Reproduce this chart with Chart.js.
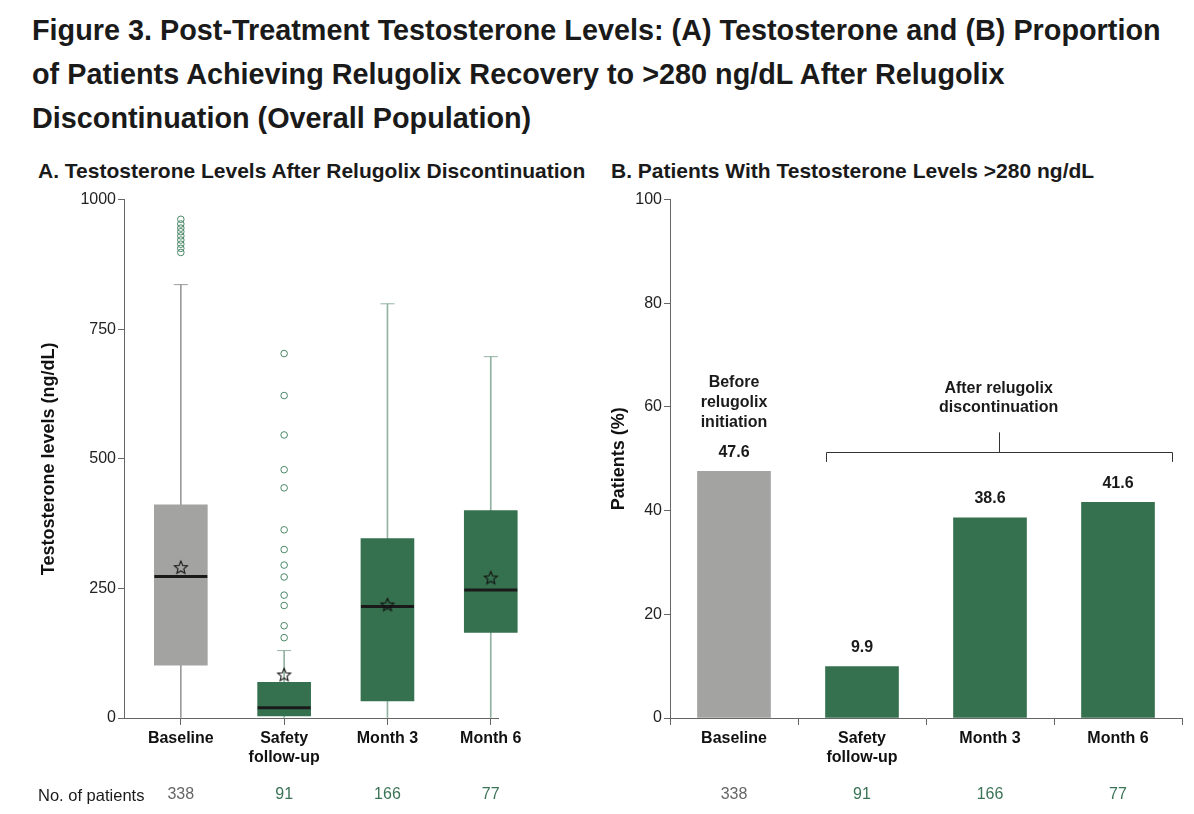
<!DOCTYPE html>
<html>
<head>
<meta charset="utf-8">
<script src="https://cdn.jsdelivr.net/npm/chart.js@4.4.1/dist/chart.umd.min.js"></script>
<style>
  body { margin: 0; width: 1194px; height: 814px; background: #fff; position: relative; overflow: hidden;
         font-family: "Liberation Sans", Arial, sans-serif; color: #1a1a1a; }
  #title { position: absolute; left: 32px; top: 8px; font-size: 28.8px; font-weight: bold; line-height: 44px; white-space: nowrap; }
  .sub { position: absolute; top: 159px; font-size: 21px; font-weight: bold; line-height: 24px; white-space: nowrap; }
  #npat { position: absolute; left: 38px; top: 785px; font-size: 16.5px; line-height: 20px; color: #1a1a1a; }
  canvas { position: absolute; top: 188px; }
</style>
</head>
<body>
<div id="title">Figure 3. Post-Treatment Testosterone Levels: (A) Testosterone and (B) Proportion<br>of Patients Achieving Relugolix Recovery to &gt;280 ng/dL After Relugolix<br>Discontinuation (Overall Population)</div>
<div class="sub" style="left:38px">A. Testosterone Levels After Relugolix Discontinuation</div>
<div class="sub" style="left:611px">B. Patients With Testosterone Levels &gt;280 ng/dL</div>
<canvas id="boxChart" width="600" height="626" style="left:0"></canvas>
<canvas id="pctChart" width="594" height="626" style="left:600px"></canvas>
<div id="npat">No. of patients</div>

<script>
// ---- dados ----
const categories = ['Baseline', ['Safety', 'follow-up'], 'Month 3', 'Month 6'];
const patientCounts = [338, 91, 166, 77];

// A. box plot (ng/dL)
const boxQ1 = [102, 4, 33, 165];
const boxQ3 = [411, 69, 346, 400];
const boxMedian = [273, 20, 215, 247];
const boxMean = [291, 84, 219, 271];
const whiskerLow = [0, 0, 0, 0];
const whiskerHigh = [836, 130, 799, 697];
const outliersBaseline = [962, 953, 945, 938, 930, 922, 914, 906, 898];
const outliersSafety = [703, 622, 546, 479, 444, 363, 325, 295, 272, 237, 217, 178, 155];
const outliersMonth3 = [];
const outliersMonth6 = [];
const testoTicks = [0, 250, 500, 750, 1000];

// B. % patients > 280 ng/dL
const pctValues = [47.6, 9.9, 38.6, 41.6];
const pctTicks = [0, 20, 40, 60, 80, 100];

// ---- estilos ----
const GREEN = '#36714f';
const GRAY = '#a3a4a2';
const barColors = [GRAY, GREEN, GREEN, GREEN];
const whiskerColors = ['#9c9c9c', '#93b3a2', '#93b3a2', '#93b3a2'];
const countColors = ['#666666', '#3b7356', '#3b7356', '#3b7356'];
const AXIS = '#666';
const FONT = '"Liberation Sans", Arial, sans-serif';
Chart.defaults.font.family = FONT;
Chart.defaults.color = '#222';

// estrela (média) como pointStyle
function makeStar(r) {
    const s = Math.ceil(r * 2 + 4);
    const c = document.createElement('canvas');
    c.width = c.height = s;
    const g = c.getContext('2d');
    g.beginPath();
    for (let k = 0; k < 10; k++) {
        const rr = k % 2 ? r * 0.45 : r;
        const a = -Math.PI / 2 + k * Math.PI / 5;
        const px = s / 2 + rr * Math.cos(a);
        const py = s / 2 + rr * Math.sin(a) + r * 0.1;
        if (k) g.lineTo(px, py); else g.moveTo(px, py);
    }
    g.closePath();
    g.strokeStyle = '#111';
    g.lineWidth = 1.1;
    g.stroke();
    return c;
}
const star = makeStar(6.8);

// número de pacientes abaixo do eixo
function drawCounts(chart, xFor) {
    const ctx = chart.ctx;
    const y = chart.chartArea.bottom + 77;
    ctx.save();
    ctx.font = '16px ' + FONT;
    ctx.textAlign = 'center';
    ctx.textBaseline = 'middle';
    patientCounts.forEach((n, i) => {
        ctx.fillStyle = countColors[i];
        ctx.fillText(String(n), xFor(i), y);
    });
    ctx.restore();
}

const positions = categories.map((c, i) => i + 1);
const outlierSets = [outliersBaseline, outliersSafety, outliersMonth3, outliersMonth6];
const outlierPoints = [];
outlierSets.forEach((set, i) => set.forEach(v => outlierPoints.push({ x: positions[i], y: v })));

function yAxis(ticks, max, titleText, width) {
    return {
        min: 0, max: max,
        afterBuildTicks: s => { s.ticks = ticks.map(v => ({ value: v })); },
        ticks: { font: { size: 16 }, color: '#222', padding: 2, callback: v => String(v) },
        grid: { drawOnChartArea: false, tickLength: 6, color: AXIS },
        border: { color: AXIS },
        title: { display: true, text: titleText, font: { size: 18, weight: 'bold' }, color: '#111' },
        afterFit: s => { s.width = width; }
    };
}
const catTickFont = { size: 16, weight: 'bold' };

// ---- A. box plot ----
new Chart(document.getElementById('boxChart'), {
    type: 'bar',
    data: {
        datasets: [{
            label: 'whisker',
            data: positions.map((x, i) => ({ x: x, y: [whiskerLow[i], whiskerHigh[i]] })),
            backgroundColor: whiskerColors,
            barThickness: 1,
            grouped: false,
            clip: false,
            order: 5
        }, {
            label: 'box',
            data: positions.map((x, i) => ({ x: x, y: [boxQ1[i], boxQ3[i]] })),
            backgroundColor: barColors,
            barThickness: 53,
            grouped: false,
            clip: false,
            order: 4
        }, {
            type: 'scatter',
            label: 'cap',
            data: positions.map((x, i) => ({ x: x, y: whiskerHigh[i] })),
            pointStyle: 'line',
            pointRadius: 7,
            pointBorderColor: whiskerColors,
            pointBorderWidth: 1,
            clip: false,
            order: 3
        }, {
            type: 'scatter',
            label: 'median',
            data: positions.map((x, i) => ({ x: x, y: boxMedian[i] })),
            pointStyle: 'line',
            pointRadius: 26.5,
            pointBorderColor: '#1a1a1a',
            pointBorderWidth: 3,
            clip: false,
            order: 2
        }, {
            type: 'scatter',
            label: 'mean',
            data: positions.map((x, i) => ({ x: x, y: boxMean[i] })),
            pointStyle: star,
            clip: false,
            order: 1
        }, {
            type: 'scatter',
            label: 'outliers',
            data: outlierPoints,
            pointStyle: 'circle',
            pointRadius: 3.3,
            pointBorderColor: '#4a8766',
            pointBackgroundColor: 'rgba(255,255,255,0)',
            pointBorderWidth: 1,
            clip: false,
            order: 0
        }]
    },
    options: {
        responsive: false,
        animation: false,
        layout: { autoPadding: false, padding: { left: 34, right: 102, top: 10, bottom: 0 } },
        plugins: { legend: { display: false }, tooltip: { enabled: false } },
        scales: {
            x: {
                type: 'linear', min: 0.45, max: 4.07, offset: false,
                afterBuildTicks: s => { s.ticks = positions.map(v => ({ value: v })); },
                ticks: { callback: v => categories[Math.round(v) - 1], font: catTickFont, color: '#111', padding: 4, maxRotation: 0, autoSkip: false },
                grid: { offset: false, drawOnChartArea: false, tickLength: 7, color: AXIS },
                border: { color: AXIS },
                afterFit: s => { s.height = 96; }
            },
            y: yAxis(testoTicks, 1000, 'Testosterone levels (ng/dL)', 90)
        }
    },
    plugins: [{
        id: 'countsA',
        afterDraw(chart) {
            drawCounts(chart, i => chart.scales.x.getPixelForValue(positions[i]));
        }
    }]
});

// ---- B. barras ----
new Chart(document.getElementById('pctChart'), {
    type: 'bar',
    data: {
        labels: categories,
        datasets: [{
            data: pctValues,
            backgroundColor: barColors,
            barThickness: 73
        }]
    },
    options: {
        responsive: false,
        animation: false,
        layout: { autoPadding: false, padding: { left: 4, right: 12, top: 10, bottom: 0 } },
        plugins: { legend: { display: false }, tooltip: { enabled: false } },
        scales: {
            x: {
                offset: true,
                ticks: { font: catTickFont, color: '#111', padding: 4, maxRotation: 0, autoSkip: false },
                grid: { offset: true, drawOnChartArea: false, tickLength: 7, color: AXIS },
                border: { color: AXIS },
                afterFit: s => { s.height = 96; }
            },
            y: yAxis(pctTicks, 100, 'Patients (%)', 66)
        }
    },
    plugins: [{
        id: 'labelsB',
        afterDraw(chart) {
            const ctx = chart.ctx;
            const xs = chart.scales.x, ys = chart.scales.y;
            const bars = chart.getDatasetMeta(0).data;
            ctx.save();
            ctx.fillStyle = '#1a1a1a';
            ctx.textAlign = 'center';
            ctx.textBaseline = 'middle';
            ctx.font = 'bold 16px ' + FONT;
            // valores acima das barras
            bars.forEach((b, i) => ctx.fillText(pctValues[i].toFixed(1), b.x, b.y - 19));
            // anotação da barra Baseline
            const bx = bars[0].x;
            ['Before', 'relugolix', 'initiation'].forEach((t, k) => {
                ctx.fillText(t, bx, ys.getPixelForValue([64.7, 60.8, 57.0][k]));
            });
            // chave "After relugolix discontinuation"
            const step = xs.getPixelForValue(1) - xs.getPixelForValue(0);
            const left = bars[1].x - bars[1].width / 2;
            const right = xs.getPixelForValue(3) + 0.42 * step;
            const mid = (left + right) / 2;
            const yb = Math.round(ys.getPixelForValue(51.4)) + 0.5;
            const yEnd = ys.getPixelForValue(49.4);
            const yTop = ys.getPixelForValue(55.1);
            ctx.strokeStyle = '#333';
            ctx.lineWidth = 1;
            ctx.beginPath();
            ctx.moveTo(Math.round(left) + 0.5, yEnd);
            ctx.lineTo(Math.round(left) + 0.5, yb);
            ctx.lineTo(Math.round(right) + 0.5, yb);
            ctx.lineTo(Math.round(right) + 0.5, yEnd);
            ctx.moveTo(Math.round(mid) + 0.5, yb);
            ctx.lineTo(Math.round(mid) + 0.5, yTop);
            ctx.stroke();
            ctx.fillText('After relugolix', mid, ys.getPixelForValue(63.5));
            ctx.fillText('discontinuation', mid, ys.getPixelForValue(59.9));
            ctx.restore();
            drawCounts(chart, i => xs.getPixelForValue(i));
        }
    }]
});
</script>
</body>
</html>
